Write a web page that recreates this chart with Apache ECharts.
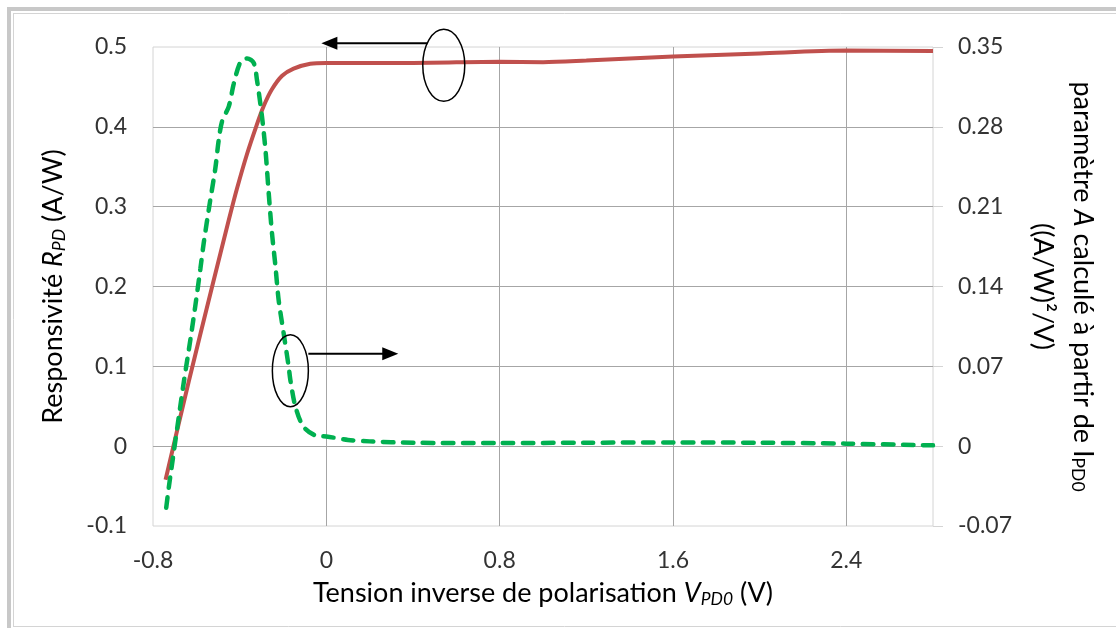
<!DOCTYPE html>
<html><head><meta charset="utf-8">
<script src="https://cdn.jsdelivr.net/npm/echarts@6/dist/echarts.min.js"></script>
<style>html,body{margin:0;padding:0;background:#fff}#c{width:1116px;height:628px}</style>
</head><body><div id="c"></div>
<script>
// X axis tick labels (tension inverse, V)
const xTickLabels = ['-0.8', '0', '0.8', '1.6', '2.4'];
// Responsivité R_PD (A/W) -- left axis
const respV = [-0.742, -0.635, -0.527, -0.45, -0.412, -0.366, -0.323, -0.289, -0.251, -0.204, -0.151, -0.074, 0.0, 0.11, 0.4, 0.8, 1.0, 1.2, 1.6, 2.0, 2.4, 2.8];
const respR = [-0.042, 0.081, 0.200, 0.2835, 0.323, 0.366, 0.401, 0.426, 0.447, 0.464, 0.473, 0.479, 0.480, 0.480, 0.480, 0.4815, 0.481, 0.483, 0.488, 0.492, 0.4955, 0.495];
// Paramètre A ((A/W)^2/V) -- right axis
const paramV = [-0.739, -0.727, -0.704, -0.680, -0.658, -0.627, -0.604, -0.581, -0.566, -0.538, -0.512, -0.497, -0.481, -0.450, -0.427, -0.396, -0.365, -0.335, -0.320, -0.297, -0.281, -0.266, -0.251, -0.235, -0.220, -0.197, -0.174, -0.166, -0.143, -0.105, -0.043, 0.0, 0.1, 0.2, 0.4, 0.8, 1.2, 1.6, 2.0, 2.4, 2.8];
const paramA = [-0.054, -0.036, -0.005, 0.027, 0.056, 0.094, 0.124, 0.156, 0.178, 0.213, 0.244, 0.268, 0.285, 0.298, 0.318, 0.337, 0.340, 0.336, 0.321, 0.289, 0.260, 0.222, 0.187, 0.158, 0.128, 0.099, 0.070, 0.058, 0.035, 0.017, 0.009, 0.0085, 0.0055, 0.0042, 0.003, 0.0028, 0.003, 0.0033, 0.003, 0.0022, 0.0007];

const FONT = 'Lato';
const TITLE = 27, SUB = 17.5;
const chart = echarts.init(document.getElementById('c'), null, {renderer: 'canvas'});

const respData = respV.map((v, i) => [v, respR[i]]);
const paramData = paramV.map((v, i) => [v, paramA[i]]);

const gridLineColor = '#a6a6a6';
const borderColor = '#d4d4d4';

chart.setOption({
  animation: false,
  backgroundColor: '#fff',
  grid: {left: 153, right: 183, top: 47, bottom: 102, show: true, borderColor: borderColor, borderWidth: 1, backgroundColor: 'transparent'},
  xAxis: {
    type: 'value', min: -0.8, max: 2.8, interval: 0.8,
    axisLine: {show: false}, axisTick: {show: false},
    splitLine: {show: true, showMinLine: false, showMaxLine: false, lineStyle: {color: gridLineColor, width: 1}},
    axisLabel: {
      margin: 23, color: '#333', fontFamily: FONT, fontSize: 23,
      formatter: function (v) {
        const s = String(Math.round(v * 10) / 10);
        return xTickLabels.indexOf(s) >= 0 ? s : '';
      }
    },
    name: 'Tension inverse de polarisation {i|V}{sub|PD0} (V)',
    nameLocation: 'middle', nameGap: 53,
    nameTextStyle: {
      color: '#000', fontFamily: FONT, fontSize: TITLE,
      rich: {
        i: {fontFamily: FONT, fontSize: TITLE, fontStyle: 'italic', color: '#000'},
        sub: {fontFamily: FONT, fontSize: SUB, fontStyle: 'italic', color: '#000', padding: [11, 0, 0, 0]}
      }
    }
  },
  yAxis: [{
    type: 'value', min: -0.1, max: 0.5, interval: 0.1, position: 'left',
    axisLine: {show: false}, axisTick: {show: false},
    splitLine: {show: true, showMinLine: false, showMaxLine: false, lineStyle: {color: gridLineColor, width: 1}},
    axisLabel: {margin: 26, color: '#333', fontFamily: FONT, fontSize: 23},
    name: 'Responsivité {i|R}{sub|PD} (A/W)',
    nameLocation: 'middle', nameGap: 85,
    nameTextStyle: {
      color: '#000', fontFamily: FONT, fontSize: TITLE,
      rich: {
        i: {fontFamily: FONT, fontSize: TITLE, fontStyle: 'italic', color: '#000'},
        sub: {fontFamily: FONT, fontSize: SUB, fontStyle: 'italic', color: '#000', padding: [11, 0, 0, 0]}
      }
    }
  }, {
    type: 'value', min: -0.07, max: 0.35, interval: 0.07, position: 'right',
    axisLine: {show: false},
    axisTick: {show: true, inside: false, length: 10, lineStyle: {color: borderColor}},
    splitLine: {show: false},
    axisLabel: {margin: 25, color: '#333', fontFamily: FONT, fontSize: 23},
    name: '{l|paramètre }{i|A}{l| calculé à partir de I}{s|PD0}\n{l|((A/W)²/V)}',
    nameLocation: 'middle', nameGap: 86, nameRotate: -90,
    nameTextStyle: {
      color: '#000', fontFamily: FONT, fontSize: TITLE, lineHeight: 40,
      rich: {
        l: {fontFamily: FONT, fontSize: TITLE, color: '#000', lineHeight: 40},
        i: {fontFamily: FONT, fontSize: TITLE, fontStyle: 'italic', color: '#000', lineHeight: 40},
        s: {fontFamily: FONT, fontSize: SUB, color: '#000', padding: [11, 0, 0, 0], lineHeight: 40}
      }
    }
  }],
  series: [{
    name: 'Responsivité', type: 'line', xAxisIndex: 0, yAxisIndex: 0,
    data: respData, showSymbol: false, smooth: 0.3,
    lineStyle: {color: '#c0504d', width: 4}, z: 2
  }, {
    name: 'Paramètre A', type: 'line', xAxisIndex: 0, yAxisIndex: 1,
    data: paramData, showSymbol: false, smooth: 0.3,
    lineStyle: {color: '#00b050', width: 4.5, type: [10.5, 9.5], cap: 'round'}, z: 3
  }]
});

// annotations: ellipses + arrows, anchored in data coordinates (left axis)
function px(pt) { return chart.convertToPixel({xAxisIndex: 0, yAxisIndex: 0}, pt); }
const e1 = px([0.542, 0.477]);
const a1s = px([0.466, 0.5046]);
const a1t = px([-0.023, 0.5046]);
const e2 = px([-0.166, 0.0945]);
const a2s = px([-0.083, 0.1158]);
const a2t = px([0.332, 0.1158]);
const head = 16, hw = 6.5;

chart.setOption({
  graphic: [
    // frame
    {type: 'rect', shape: {x: 7, y: 7, width: 1109, height: 4}, style: {fill: '#c8c8c8'}, silent: true},
    {type: 'rect', shape: {x: 7, y: 7, width: 4, height: 621}, style: {fill: '#c8c8c8'}, silent: true},
    {type: 'line', shape: {x1: 13, y1: 13.5, x2: 1116, y2: 13.5}, style: {stroke: '#d4d4d4', lineWidth: 1}, silent: true},
    {type: 'line', shape: {x1: 13.5, y1: 13, x2: 13.5, y2: 626}, style: {stroke: '#d4d4d4', lineWidth: 1}, silent: true},
    {type: 'line', shape: {x1: 13, y1: 626.5, x2: 1116, y2: 626.5}, style: {stroke: '#d4d4d4', lineWidth: 1}, silent: true},
    // annotation 1 (-> left axis)
    {type: 'ellipse', shape: {cx: e1[0], cy: e1[1], rx: 21, ry: 36}, style: {fill: 'none', stroke: '#000', lineWidth: 1.5}, z: 100},
    {type: 'line', shape: {x1: a1s[0], y1: a1s[1], x2: a1t[0] + head - 2, y2: a1t[1]}, style: {stroke: '#000', lineWidth: 2}, z: 100},
    {type: 'polygon', shape: {points: [[a1t[0], a1t[1]], [a1t[0] + head, a1t[1] - hw], [a1t[0] + head, a1t[1] + hw]]}, style: {fill: '#000'}, z: 100},
    // annotation 2 (-> right axis)
    {type: 'ellipse', shape: {cx: e2[0], cy: e2[1], rx: 18, ry: 36}, style: {fill: 'none', stroke: '#000', lineWidth: 1.5}, z: 100},
    {type: 'line', shape: {x1: a2s[0], y1: a2s[1], x2: a2t[0] - head + 2, y2: a2t[1]}, style: {stroke: '#000', lineWidth: 2}, z: 100},
    {type: 'polygon', shape: {points: [[a2t[0], a2t[1]], [a2t[0] - head, a2t[1] - hw], [a2t[0] - head, a2t[1] + hw]]}, style: {fill: '#000'}, z: 100}
  ]
});
</script>
</body></html>
